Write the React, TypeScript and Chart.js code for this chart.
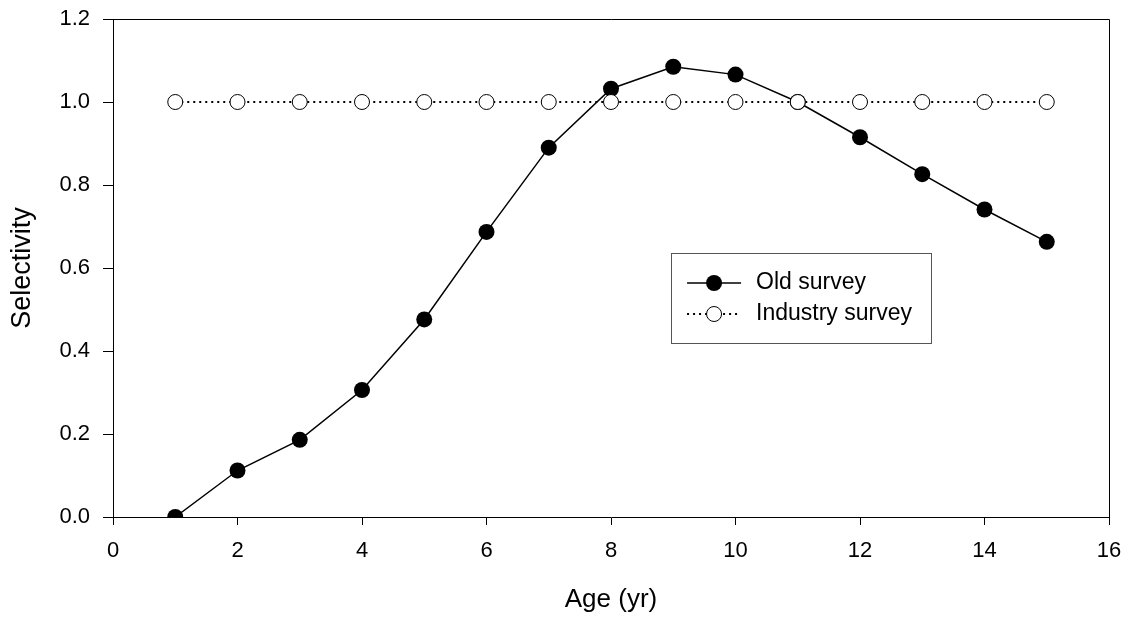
import React, { useEffect, useRef } from "react";
import { Chart, registerables } from "chart.js";

Chart.register(...registerables);

const ages = [1, 2, 3, 4, 5, 6, 7, 8, 9, 10, 11, 12, 13, 14, 15];
const oldSurvey = [0.0, 0.112, 0.186, 0.306, 0.476, 0.687, 0.89, 1.032, 1.085, 1.066, 1.0, 0.915, 0.826, 0.741, 0.663];
const industrySurvey = [1, 1, 1, 1, 1, 1, 1, 1, 1, 1, 1, 1, 1, 1, 1];
const seriesNames = ["Old survey", "Industry survey"];
const xTitle = "Age (yr)";
const yTitle = "Selectivity";

const FONT = "'Liberation Sans', Arial, Helvetica, sans-serif";

const framePlugin = {
  id: "frame",
  afterDatasetsDraw(chart: any) {
    const { ctx, chartArea: a } = chart;
    ctx.save();
    ctx.strokeStyle = "#000";
    ctx.lineWidth = 1;
    ctx.beginPath();
    ctx.moveTo(a.left, a.top + 0.5);
    ctx.lineTo(a.right + 0.5, a.top + 0.5);
    ctx.lineTo(a.right + 0.5, a.bottom);
    ctx.stroke();
    ctx.restore();
  },
};

const legendPlugin = {
  id: "customLegend",
  afterDraw(chart: any) {
    const { ctx, chartArea: a } = chart;
    const w = a.right - a.left;
    const h = a.bottom - a.top;
    const x0 = a.left + w * 0.5603;
    const y0 = a.top + h * 0.4699;
    const bw = 260;
    const bh = 90;
    ctx.save();
    ctx.fillStyle = "#fff";
    ctx.fillRect(x0, y0, bw, bh);
    ctx.strokeStyle = "#555";
    ctx.lineWidth = 1;
    ctx.strokeRect(Math.round(x0) + 0.5, Math.round(y0) + 0.5, bw, bh);
    const rows = [y0 + 30, y0 + 61];
    const lx1 = x0 + 16;
    const lx2 = x0 + 70;
    const mx = x0 + 43;
    ctx.strokeStyle = "#000";
    ctx.lineWidth = 1.5;
    ctx.setLineDash([]);
    ctx.beginPath();
    ctx.moveTo(lx1, rows[0]);
    ctx.lineTo(lx2, rows[0]);
    ctx.stroke();
    ctx.fillStyle = "#000";
    ctx.beginPath();
    ctx.arc(mx, rows[0], 8, 0, Math.PI * 2);
    ctx.fill();
    ctx.lineWidth = 2;
    ctx.setLineDash([2, 4]);
    ctx.beginPath();
    ctx.moveTo(lx1, rows[1]);
    ctx.lineTo(lx2, rows[1]);
    ctx.stroke();
    ctx.setLineDash([]);
    ctx.fillStyle = "#fff";
    ctx.lineWidth = 1;
    ctx.beginPath();
    ctx.arc(mx, rows[1], 7.5, 0, Math.PI * 2);
    ctx.fill();
    ctx.stroke();
    ctx.fillStyle = "#000";
    ctx.font = `23px ${FONT}`;
    ctx.textBaseline = "middle";
    ctx.textAlign = "left";
    ctx.fillText(seriesNames[0], x0 + 85, rows[0]);
    ctx.fillText(seriesNames[1], x0 + 85, rows[1]);
    ctx.restore();
  },
};

export default function App() {
  const ref = useRef<HTMLCanvasElement | null>(null);
  useEffect(() => {
    if (!ref.current) return;
    const chart = new Chart(ref.current, {
      type: "line",
      data: {
        datasets: [
          {
            label: seriesNames[0],
            data: ages.map((a, i) => ({ x: a, y: oldSurvey[i] })),
            borderColor: "#000",
            borderWidth: 1.5,
            pointRadius: 8,
            pointBackgroundColor: "#000",
            pointBorderColor: "#000",
            pointBorderWidth: 0,
            tension: 0,
            order: 1,
          },
          {
            label: seriesNames[1],
            data: ages.map((a, i) => ({ x: a, y: industrySurvey[i] })),
            borderColor: "#000",
            borderWidth: 2,
            borderDash: [2, 4],
            pointRadius: 7.5,
            pointBackgroundColor: "#fff",
            pointBorderColor: "#000",
            pointBorderWidth: 1,
            tension: 0,
            order: 0,
          },
        ],
      },
      options: {
        animation: false,
        responsive: false,
        maintainAspectRatio: false,
        events: [],
        layout: { padding: { top: 19, right: 21, left: 0, bottom: 0 } },
        plugins: { legend: { display: false }, tooltip: { enabled: false } },
        scales: {
          x: {
            type: "linear",
            min: 0,
            max: 16,
            afterFit: (s: any) => {
              s.height = 102;
              s.paddingLeft = 0;
              s.paddingRight = 0;
            },
            ticks: {
              stepSize: 2,
              color: "#000",
              padding: 13,
              maxRotation: 0,
              font: { family: FONT, size: 22 },
            },
            grid: { drawOnChartArea: false, drawTicks: true, tickLength: 8, color: "#000" },
            border: { color: "#000", width: 1 },
            title: {
              display: true,
              text: xTitle,
              color: "#000",
              font: { family: FONT, size: 26 },
              padding: { top: 0, bottom: 4 },
            },
          },
          y: {
            type: "linear",
            min: 0,
            max: 1.2,
            afterFit: (s: any) => {
              s.width = 113;
              s.paddingTop = 0;
              s.paddingBottom = 0;
            },
            ticks: {
              stepSize: 0.2,
              color: "#000",
              padding: 13,
              font: { family: FONT, size: 22 },
              callback: (v: any) => Number(v).toFixed(1),
            },
            grid: { drawOnChartArea: false, drawTicks: true, tickLength: 10, color: "#000" },
            border: { color: "#000", width: 1 },
            title: {
              display: true,
              text: yTitle,
              color: "#000",
              font: { family: FONT, size: 27 },
              padding: { top: 6, bottom: 0 },
            },
          },
        },
      },
      plugins: [framePlugin, legendPlugin],
    });
    return () => chart.destroy();
  }, []);
  return (
    <div style={{ position: "fixed", left: 0, top: 0, width: 1130, height: 619, background: "#fff" }}>
      <canvas ref={ref} width={1130} height={619} style={{ width: 1130, height: 619 }} />
    </div>
  );
}
